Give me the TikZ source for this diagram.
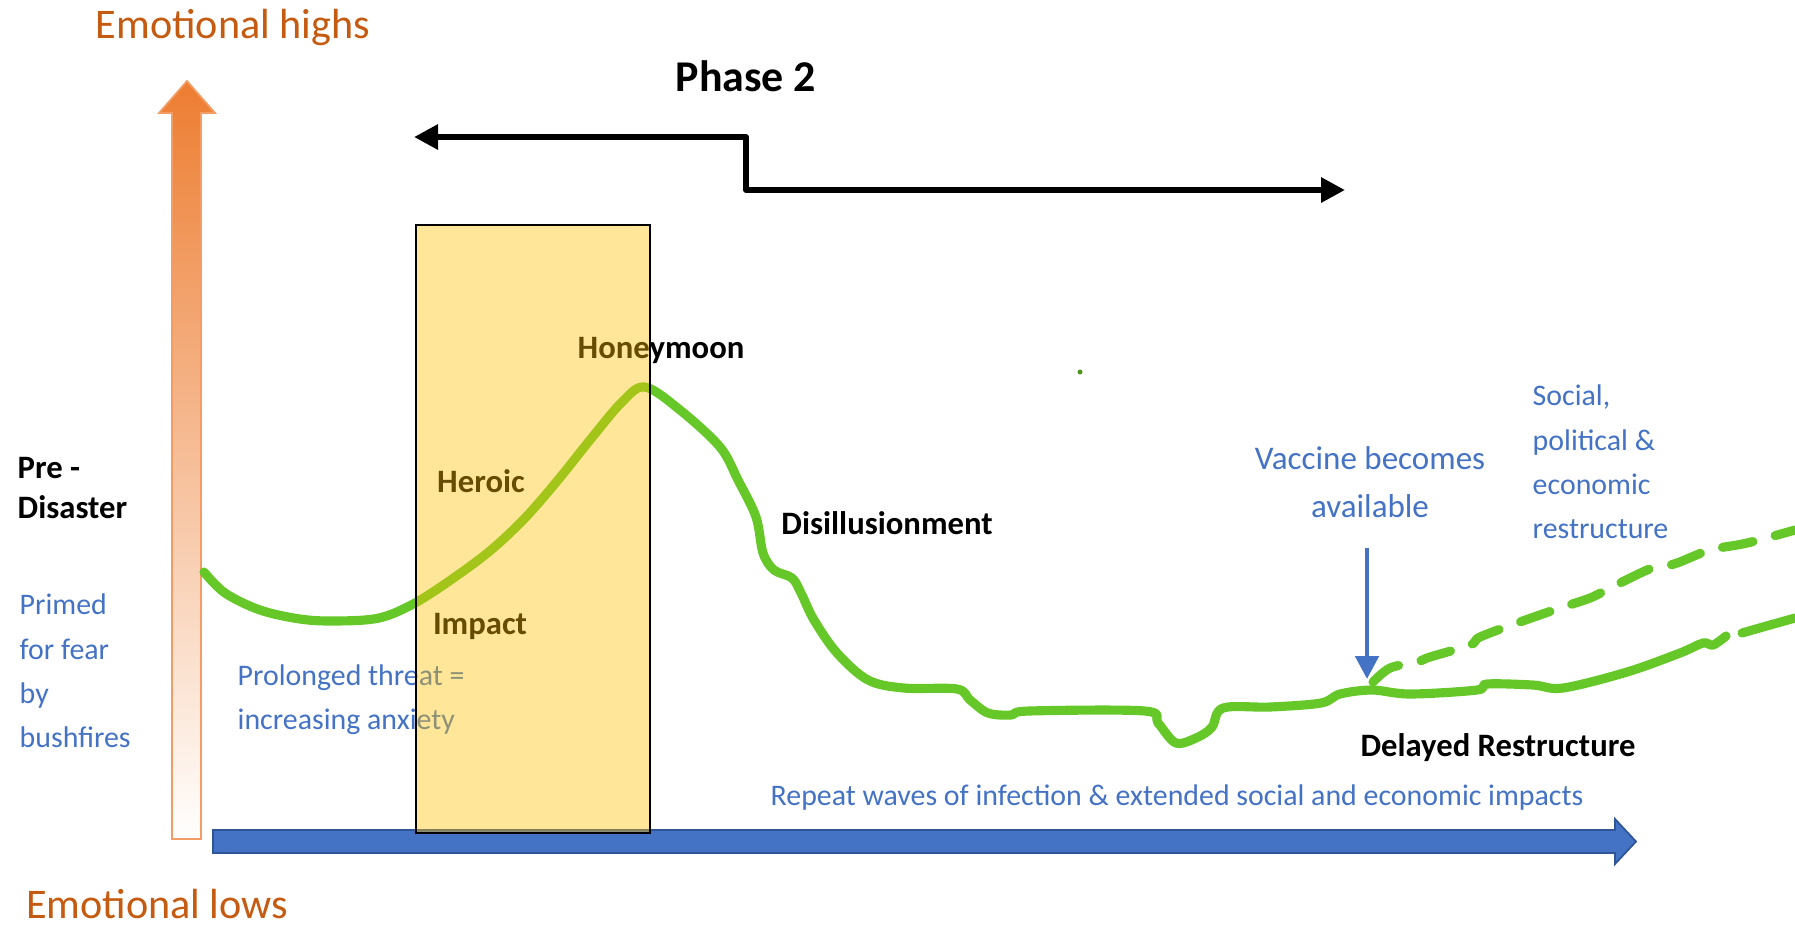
\documentclass[tikz,border=0pt]{standalone}
\usepackage{fontspec}
\setmainfont{Carlito}
\usetikzlibrary{arrows.meta}

\definecolor{curvegreen}{HTML}{66C828}
\definecolor{lowblue}{HTML}{4472C4}
\definecolor{edgeblue}{HTML}{2F5597}
\definecolor{highorange}{HTML}{ED7D31}
\definecolor{textorange}{HTML}{C55A11}
\definecolor{boxgold}{HTML}{FFC000}

\tikzset{
  axislabel/.style={font=\fontsize{12}{14}\selectfont, text=textorange, inner sep=0pt},
  stage/.style={font=\fontsize{9.3}{11.6}\selectfont\bfseries, inner sep=0pt, align=left},
  note/.style={font=\fontsize{8.5}{12.6}\selectfont, text=lowblue, inner sep=0pt, align=left},
  curve/.style={draw=curvegreen, line width=2.6pt, line cap=round, line join=round},
  phasebox/.style={fill=boxgold, fill opacity=0.4, draw=black, line width=0.6pt},
  phasearrow/.style={<->, >={Triangle[length=2.4mm,width=2.4mm]}, line width=1.7pt, line join=round},
  vaccinearrow/.style={->, >={Triangle[length=2.3mm,width=2.3mm]}, draw=lowblue, line width=1.4pt}
}

\begin{document}
\begin{tikzpicture}[x=0.1mm, y=-0.1mm]
        \useasboundingbox (0,0) rectangle (1795,925);

        % axes
        \path[draw=highorange!75, line width=0.5pt, top color=highorange, bottom color=white]
            (172,839) -- (172,113) -- (159,113) -- (187,81) -- (215,113) -- (201,113) -- (201,839) -- cycle;
        \path[fill=lowblue, draw=edgeblue, line width=0.5pt]
            (213,830) -- (1615,830) -- (1615,819) -- (1636,841.5) -- (1615,864) -- (1615,853) -- (213,853) -- cycle;
        \node[axislabel] (highs) at (233,27) {Emotional highs};
        \node[axislabel] (lows) at (157,904) {Emotional lows};

        % labels
        \node[stage, anchor=west] (pre) at (17,488) {Pre -\\Disaster};
        \node[stage] (heroic) at (481,481) {Heroic};
        \node[stage] (impact) at (480,626) {Impact};
        \node[stage] (honey) at (661,350) {Honeymoon};
        \node[stage] (disill) at (887,523) {Disillusionment};
        \node[stage] (delayed) at (1498,748) {Delayed Restructure};
        \node[stage, font=\fontsize{12.5}{14}\selectfont\bfseries] (phase) at (746,76) {Phase 2};

        \node[note, anchor=west] (primed) at (19,671) {Primed\\for fear\\by\\bushfires};
        \node[note, anchor=west] (threat) at (237,700) {Prolonged threat =\\increasing anxiety};
        \node[note, align=center, font=\fontsize{9.4}{13.6}\selectfont] (vaccine) at (1370,482) {Vaccine becomes\\available};
        \node[note, anchor=west] (social) at (1532,462) {Social,\\political \&\\economic\\restructure};
        \node[note] (waves) at (1177,798) {Repeat waves of infection \& extended social and economic impacts};

        % emotional curve
        \draw[curve] plot[smooth, tension=0.55] coordinates {
            (204,572) (225,593) (260,610) (300,619) (335,621) (379,618) (415,603)
            (455,577) (491,550) (525,518) (558,480) (590,440) (622,402) (645,387)
            (680,410) (720,447) (738,480) (756,517) (763,553) (774,570) (792,578)
            (801,593) (814,620) (837,653) (868,680) (904,688) (957,689) (970,700)
            (988,713) (1011,715) (1029,711) (1145,711) (1158,723) (1176,743)
            (1198,737) (1212,727) (1223,708) (1270,707) (1321,703) (1340,694)
            (1372,690) (1410,694) (1477,690) (1487,684) (1533,685) (1563,688)
            (1627,672) (1680,653) (1703,643) (1713,645) (1726,636)};
        \draw[curve] plot[smooth, tension=0.55] coordinates {
            (1742,633) (1770,625) (1795,618)};
        \draw[curve, dash pattern=on 3.1mm off 2.3mm] plot[smooth, tension=0.55] coordinates {
            (1373,682) (1390,668) (1417,662) (1430,657) (1470,645) (1480,637)
            (1517,623) (1560,608) (1590,598) (1610,588) (1647,570) (1660,567)
            (1677,563) (1710,550) (1747,543) (1795,530)};
        \fill[curvegreen!75!black] (1080,372) circle (2.5);

        % phase 2 window
        \draw[phasebox] (416,225) rectangle (650,833);
        \coordinate (phaseL) at (414,137);
        \coordinate (stepT) at (746,137);
        \coordinate (stepB) at (746,190);
        \coordinate (phaseR) at (1345,190);
        \draw[phasearrow] (phaseL) -- (stepT) -- (stepB) -- (phaseR);

        \coordinate (vacTop) at (1367,548);
        \coordinate (vacTip) at (1367,679);
        \draw[vaccinearrow] (vacTop) -- (vacTip);
\end{tikzpicture}
\end{document}
